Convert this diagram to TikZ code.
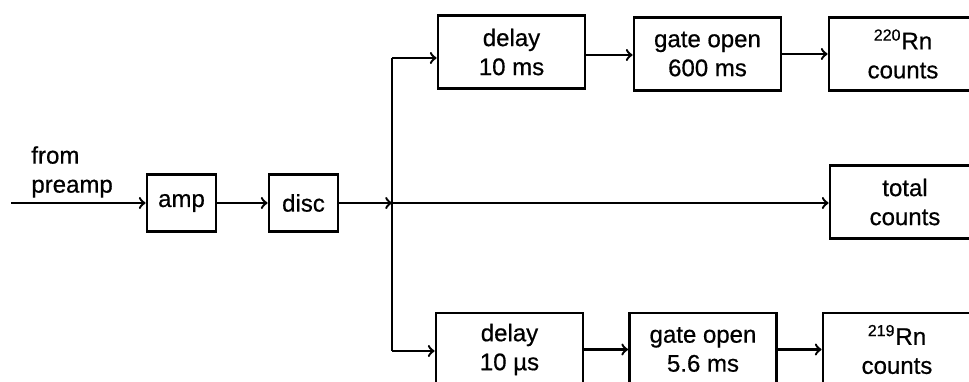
\documentclass[tikz,border=0pt]{standalone}
\usepackage{fontspec}
\setmainfont[FakeBold=0.6,AutoFakeBold=0.6]{Liberation Sans}
\newfontfamily\labelfont[FakeBold=0.6]{Liberation Sans}
\usetikzlibrary{arrows,positioning,calc}

\begin{document}
\begin{tikzpicture}[x=0.5pt,y=-0.5pt,
  box/.style={rectangle,draw,line width=1.4pt,align=center,inner sep=0pt,font=\labelfont\fontsize{12}{14.5}\selectfont},
  smallbox/.style={box,minimum width=34.5pt,minimum height=28.5pt},
  bigbox/.style={box,minimum width=73.5pt,minimum height=36.5pt},
  sig/.style={->,line width=1.2pt}]
\clip (0,0) rectangle (969,381);

% Input chain
\node[anchor=south west,align=left,inner sep=0pt,font=\labelfont\fontsize{12}{14.5}\selectfont] (src) at (31,198) {from\\preamp};
\coordinate (in) at (11,203);
\node[smallbox] (amp) at (181.5,203) {amp};
\node[smallbox] (disc) at (303.5,203) {disc};

\draw[sig] (in) -- (amp);
\draw[sig] (amp) -- (disc);

% Split point
\coordinate (split) at (392,203);
\coordinate (topc) at (392,58);
\coordinate (botc) at (392,351);
\draw[sig] (disc) -- (split);
\draw[line width=1.2pt] (topc) -- (botc);

% Upper branch
\node[bigbox] (delayA) at (511.5,52) {delay\\10 ms};
\node[bigbox] (gateA) at (707.5,54) {gate open\\600 ms};
\node[bigbox,minimum width=74pt] (rnA) at (903,54) {\textsuperscript{220}Rn\\counts};

\draw[sig] (topc) -- (topc -| delayA.west);
\draw[sig] (delayA.east |- 0,55) -- (gateA.west |- 0,55);
\draw[sig] (gateA) -- (rnA);

% Middle branch
\node[bigbox,minimum width=75pt] (total) at (905,202) {total\\counts};
\draw[sig] (split) -- (total.west |- split);

% Lower branch
\node[bigbox] (delayB) at (509.5,349.5) {delay\\10 µs};
\node[bigbox] (gateB) at (703,349.5) {gate open\\5.6 ms};
\node[bigbox,minimum width=74pt] (rnB) at (897,349.5) {\textsuperscript{219}Rn\\counts};

\draw[sig] (botc) -- (botc -| delayB.west);
\draw[sig] (delayB) -- (gateB);
\draw[sig] (gateB) -- (rnB);
\end{tikzpicture}
\end{document}
